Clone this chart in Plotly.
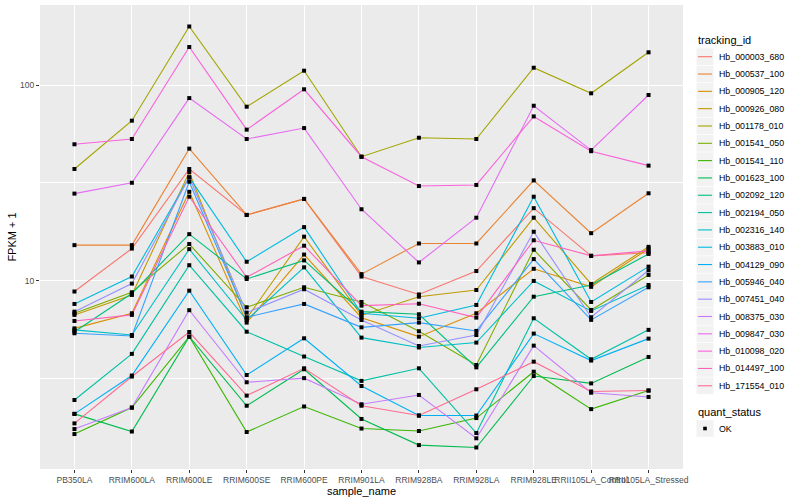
import plotly.graph_objects as go

categories = ["PB350LA", "RRIM600LA", "RRIM600LE", "RRIM600SE", "RRIM600PE", "RRIM901LA",
              "RRIM928BA", "RRIM928LA", "RRIM928LE", "RRII105LA_Control", "RRII105LA_Stressed"]

tracking_ids = ["Hb_000003_680", "Hb_000537_100", "Hb_000905_120", "Hb_000926_080", "Hb_001178_010",
                "Hb_001541_050", "Hb_001541_110", "Hb_001623_100", "Hb_002092_120", "Hb_002194_050",
                "Hb_002316_140", "Hb_003883_010", "Hb_004129_090", "Hb_005946_040", "Hb_007451_040",
                "Hb_008375_030", "Hb_009847_030", "Hb_010098_020", "Hb_014497_100", "Hb_171554_010"]

hb_000003_680 = [8.8, 14.6, 37.3, 21.7, 26.2, 10.5, 8.5, 11.2, 23.5, 13.4, 13.9]
hb_000537_100 = [15.2, 15.2, 47.4, 21.7, 26.2, 10.8, 15.5, 15.5, 32.6, 17.5, 28.0]
hb_000905_120 = [5.70, 6.81, 28.5, 6.1, 13.6, 6.46, 5.17, 6.81, 11.5, 9.3, 14.6]
hb_000926_080 = [6.68, 8.45, 35.9, 6.4, 16.8, 6.64, 8.28, 8.96, 21.0, 9.62, 14.9]
hb_001178_010 = [37.3, 65.9, 200, 77.7, 118.8, 43.1, 53.9, 53.1, 123, 91, 147.5]
hb_001541_050 = [6.81, 8.72, 15.4, 7.31, 9.25, 7.78, 5.51, 3.7, 14.4, 7.08, 10.7]
hb_001541_110 = [1.64, 2.24, 5.17, 1.68, 2.27, 1.75, 1.70, 1.98, 3.42, 2.2, 2.74]
hb_001623_100 = [2.08, 1.69, 5.17, 2.29, 3.52, 1.96, 1.44, 1.40, 3.25, 2.98, 4.07]
hb_002092_120 = [5.48, 8.6, 17.3, 10.2, 12.7, 6.94, 6.73, 3.6, 8.28, 9.5, 13.7]
hb_002194_050 = [2.45, 4.22, 12.0, 5.48, 4.09, 3.07, 3.56, 1.66, 6.42, 3.96, 5.6]
hb_002316_140 = [5.60, 5.27, 14.5, 6.29, 11.7, 5.11, 4.55, 4.82, 9.97, 7.0, 9.5]
hb_003883_010 = [7.6, 10.5, 33.8, 12.5, 18.8, 6.81, 6.42, 7.51, 26.9, 7.78, 11.8]
hb_004129_090 = [2.08, 3.27, 8.89, 3.29, 5.07, 2.89, 2.04, 2.04, 5.36, 3.9, 5.05]
hb_005946_040 = [5.38, 5.21, 32.1, 6.5, 7.6, 5.77, 6.1, 5.53, 12.9, 6.3, 9.25]
hb_007451_040 = [6.94, 9.66, 33.8, 6.86, 9.04, 6.29, 4.63, 5.27, 17.8, 6.5, 11.3]
hb_008375_030 = [1.74, 2.24, 7.06, 3.02, 3.17, 2.33, 2.6, 1.56, 4.65, 2.67, 2.54]
hb_009847_030 = [27.9, 31.7, 86, 53.1, 60.4, 23.2, 12.4, 21, 78.6, 46.6, 89.2]
hb_010098_020 = [49.9, 53.1, 157, 59.3, 95.4, 43.1, 30.5, 30.9, 69.3, 46, 38.8]
hb_014497_100 = [6.22, 6.68, 26.9, 10.4, 15.1, 7.45, 7.62, 6.47, 16.1, 13.4, 14.2]
hb_171554_010 = [1.86, 3.23, 5.46, 2.58, 3.56, 2.29, 2.04, 2.78, 3.85, 2.71, 2.74]

series_values = [hb_000003_680, hb_000537_100, hb_000905_120, hb_000926_080, hb_001178_010,
                 hb_001541_050, hb_001541_110, hb_001623_100, hb_002092_120, hb_002194_050,
                 hb_002316_140, hb_003883_010, hb_004129_090, hb_005946_040, hb_007451_040,
                 hb_008375_030, hb_009847_030, hb_010098_020, hb_014497_100, hb_171554_010]

colors = ["#F8766D", "#EA8331", "#D89000", "#C09B00", "#A3A500", "#7CAE00", "#39B600", "#00BB4E",
          "#00BF7D", "#00C1A3", "#00BFC4", "#00BAE0", "#00B0F6", "#35A2FF", "#9590FF", "#C77CFF",
          "#E76BF3", "#FA62DB", "#FF62BC", "#FF6C91"]

status_label = "OK"

FONT = "Liberation Sans"
W, H = 800, 500
ML, MR, MT, MB = 40, 117, 5, 31
PW, PH = W - ML - MR, H - MT - MB


def px2x(px):
    return (px - ML) / PW


def px2y(py):
    return (H - MB - py) / PH


fig = go.Figure()
for tid, vals, col in zip(tracking_ids, series_values, colors):
    fig.add_trace(go.Scatter(x=categories, y=vals, mode="lines", name=tid,
                             line=dict(color=col, width=1.1), showlegend=False,
                             hoverinfo="x+y+name"))

all_x, all_y = [], []
for vals in series_values:
    all_x.extend(categories)
    all_y.extend(vals)
fig.add_trace(go.Scatter(x=all_x, y=all_y, mode="markers", name=status_label,
                         marker=dict(symbol="square", size=4, color="black"),
                         showlegend=False))

# ---- manual ggplot-style legend ----
shapes = []
annotations = []
annotations.append(dict(x=px2x(696), y=px2y(40.5), xref="paper", yref="paper", text="tracking_id",
                        showarrow=False, xanchor="left", yanchor="middle",
                        font=dict(family=FONT, size=11, color="black")))
first_y, step = 56.7, 17.32
for i, (tid, col) in enumerate(zip(tracking_ids, colors)):
    cy = first_y + i * step
    shapes.append(dict(type="rect", xref="paper", yref="paper",
                       x0=px2x(696.5), x1=px2x(713.5), y0=px2y(cy - 8.3), y1=px2y(cy + 8.3),
                       fillcolor="#F2F2F2", line=dict(width=0), layer="below"))
    shapes.append(dict(type="line", xref="paper", yref="paper",
                       x0=px2x(698), x1=px2x(712), y0=px2y(cy), y1=px2y(cy),
                       line=dict(color=col, width=1.1)))
    annotations.append(dict(x=px2x(717), y=px2y(cy), xref="paper", yref="paper", text=tid,
                            showarrow=False, xanchor="left", yanchor="middle",
                            font=dict(family=FONT, size=8.8, color="black")))

annotations.append(dict(x=px2x(696), y=px2y(411.5), xref="paper", yref="paper", text="quant_status",
                        showarrow=False, xanchor="left", yanchor="middle",
                        font=dict(family=FONT, size=11, color="black")))
ok_y = 428.5
shapes.append(dict(type="rect", xref="paper", yref="paper",
                   x0=px2x(696.5), x1=px2x(713.5), y0=px2y(ok_y - 8.3), y1=px2y(ok_y + 8.3),
                   fillcolor="#F2F2F2", line=dict(width=0), layer="below"))
shapes.append(dict(type="rect", xref="paper", yref="paper",
                   x0=px2x(703.2), x1=px2x(706.8), y0=px2y(ok_y - 1.8), y1=px2y(ok_y + 1.8),
                   fillcolor="black", line=dict(width=0)))
annotations.append(dict(x=px2x(717), y=px2y(ok_y), xref="paper", yref="paper", text=status_label,
                        showarrow=False, xanchor="left", yanchor="middle",
                        font=dict(family=FONT, size=8.8, color="black")))

fig.update_layout(
    width=W, height=H,
    margin=dict(l=ML, r=MR, t=MT, b=MB, autoexpand=False),
    paper_bgcolor="white", plot_bgcolor="#EBEBEB",
    font=dict(family=FONT, size=9, color="#4D4D4D"),
    showlegend=False,
    xaxis=dict(type="category", categoryorder="array", categoryarray=categories,
               range=[-0.6, 10.6], showgrid=True, gridcolor="white", gridwidth=1.1,
               zeroline=False, showline=False, ticks="outside", ticklen=3,
               tickcolor="#333333", tickangle=0, automargin=False,
               tickfont=dict(family=FONT, size=8.5, color="#4D4D4D"),
               title=dict(text="sample_name", font=dict(family=FONT, size=11, color="black"),
                          standoff=0)),
    yaxis=dict(type="log", range=[0.036, 2.411], tickvals=[1, 10, 100, 1000],
               ticktext=["1", "10", "100", "1000"], showgrid=True, gridcolor="white",
               gridwidth=1.1, zeroline=False, showline=False, ticks="outside", ticklen=3,
               tickcolor="#333333", automargin=False,
               tickfont=dict(family=FONT, size=8.5, color="#4D4D4D"),
               minor=dict(tickvals=[10 ** 0.5, 10 ** 1.5], showgrid=True,
                          gridcolor="white", gridwidth=0.5, ticks=""),
               title=dict(text="FPKM + 1", font=dict(family=FONT, size=11, color="black"),
                          standoff=1)),
    shapes=shapes,
    annotations=annotations,
)

fig.write_html("out.html", config={"displayModeBar": False},
               post_script="document.body.style.margin='0';document.body.style.padding='0';")
